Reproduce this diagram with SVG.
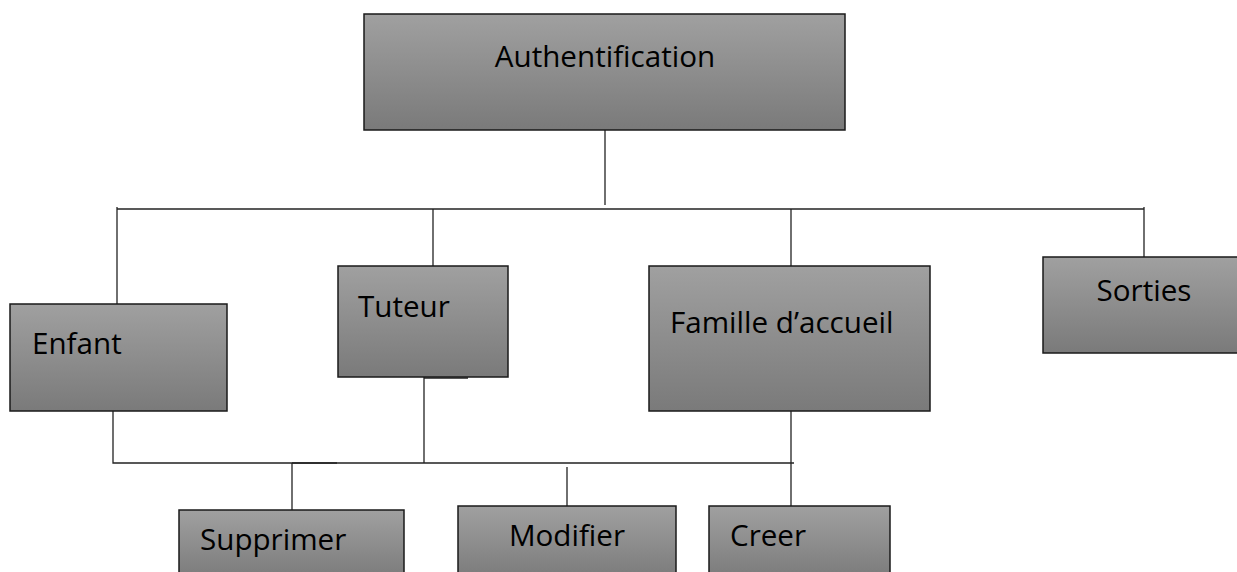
<svg xmlns="http://www.w3.org/2000/svg" width="1237" height="572" viewBox="0 0 1237 572">
<defs>
<linearGradient id="g" x1="0" y1="0" x2="0" y2="1">
<stop offset="0" stop-color="#a0a0a0"/>
<stop offset="1" stop-color="#7a7a7a"/>
</linearGradient>
</defs>
<style>
.box{fill:url(#g);stroke:#1a1a1a;stroke-width:1.5}
.t{font-family:"Open Sans",Lato,sans-serif;font-size:29.6px;fill:#000;font-variant-ligatures:none}
.c{fill:none;stroke:#222;stroke-width:1.3}
</style>
<rect width="1237" height="572" fill="#fff"/>
<g id="connectors">
<path class="c" d="M605 130V205"/>
<path class="c" d="M117 209H1144"/>
<path class="c" d="M117 207V304"/>
<path class="c" d="M433 209V266"/>
<path class="c" d="M791 209V266"/>
<path class="c" d="M1144 207V257"/>
<path class="c" d="M113 411V463H794"/>
<path class="c" d="M424 377V463"/>
<path class="c" d="M424 378H468" stroke-width="2"/>
<path class="c" d="M292 463H337" stroke-width="2"/>
<path class="c" d="M292 463V510"/>
<path class="c" d="M567 467V506"/>
<path class="c" d="M791 411V506"/>
</g>
<g id="authentification">
<rect class="box" x="364" y="14" width="481" height="116"/>
<text class="t" x="605" y="67" text-anchor="middle">Authentification</text>
</g>
<g id="enfant">
<rect class="box" x="10" y="304" width="217" height="107"/>
<text class="t" x="32" y="354">Enfant</text>
</g>
<g id="tuteur">
<rect class="box" x="338" y="266" width="170" height="111"/>
<text class="t" x="358" y="317">Tuteur</text>
</g>
<g id="famille">
<rect class="box" x="649" y="266" width="281" height="145"/>
<text class="t" x="670" y="333">Famille d’accueil</text>
</g>
<g id="sorties">
<rect class="box" x="1043" y="257" width="196" height="96"/>
<text class="t" x="1144" y="301" text-anchor="middle">Sorties</text>
</g>
<g id="supprimer">
<rect class="box" x="179" y="510" width="225" height="70"/>
<text class="t" x="200" y="550">Supprimer</text>
</g>
<g id="modifier">
<rect class="box" x="458" y="506" width="218" height="74"/>
<text class="t" x="567" y="546" text-anchor="middle">Modifier</text>
</g>
<g id="creer">
<rect class="box" x="709" y="506" width="181" height="74"/>
<text class="t" x="730" y="546">Creer</text>
</g>
</svg>
